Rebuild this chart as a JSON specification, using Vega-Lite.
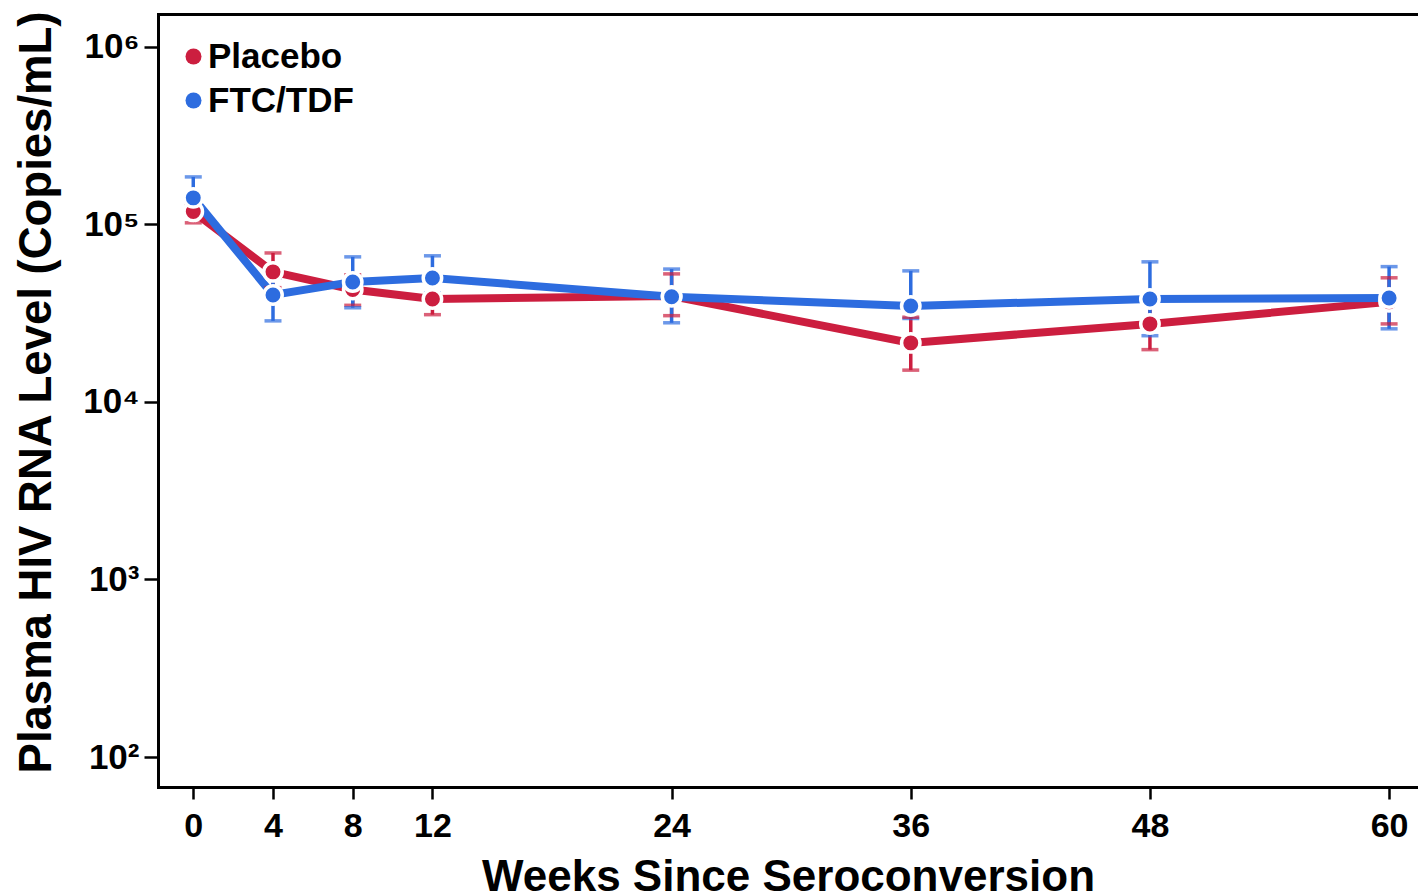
{
  "$schema": "https://vega.github.io/schema/vega-lite/v6.json",
  "autosize": {"type": "none"},
  "width": 1260,
  "height": 773,
  "padding": {"left": 158, "top": 14, "right": 0, "bottom": 109},
  "background": "white",
  "config": {"view": {"stroke": null}, "font": "Liberation Sans"},
  "data": {"values": [
    {"week": 0, "group": "Placebo", "mean": 118000, "lo": 102000, "hi": 130000},
    {"week": 4, "group": "Placebo", "mean": 54000, "lo": 44000, "hi": 69000},
    {"week": 8, "group": "Placebo", "mean": 43000, "lo": 35000, "hi": 52000},
    {"week": 12, "group": "Placebo", "mean": 38000, "lo": 31000, "hi": 47000},
    {"week": 24, "group": "Placebo", "mean": 39500, "lo": 30600, "hi": 52600},
    {"week": 36, "group": "Placebo", "mean": 21500, "lo": 15100, "hi": 30000},
    {"week": 48, "group": "Placebo", "mean": 27500, "lo": 19700, "hi": 36000},
    {"week": 60, "group": "Placebo", "mean": 36600, "lo": 27500, "hi": 50000},
    {"week": 0, "group": "FTC/TDF", "mean": 141000, "lo": 112000, "hi": 185000},
    {"week": 4, "group": "FTC/TDF", "mean": 40000, "lo": 28600, "hi": 50000},
    {"week": 8, "group": "FTC/TDF", "mean": 47400, "lo": 33900, "hi": 65600},
    {"week": 12, "group": "FTC/TDF", "mean": 49900, "lo": 41000, "hi": 66500},
    {"week": 24, "group": "FTC/TDF", "mean": 39100, "lo": 27900, "hi": 56000},
    {"week": 36, "group": "FTC/TDF", "mean": 34700, "lo": 29500, "hi": 54700},
    {"week": 48, "group": "FTC/TDF", "mean": 38000, "lo": 23600, "hi": 61500},
    {"week": 60, "group": "FTC/TDF", "mean": 38500, "lo": 25800, "hi": 57800}
  ]},
  "layer": [
    {
      "encoding": {
        "x": {"field": "week", "type": "quantitative",
              "scale": {"domain": [-1.77, 61.45], "nice": false, "zero": false}}
      },
      "layer": [
        {
          "mark": {"type": "line", "strokeWidth": 8},
          "encoding": {
            "x": {"field": "week", "type": "quantitative",
                  "axis": {"values": [0, 4, 8, 12, 24, 36, 48, 60], "grid": false,
                           "domainColor": "black", "domainWidth": 3, "domainCap": "square",
                           "tickColor": "black", "tickWidth": 2.5, "tickSize": 12,
                           "labelFont": "Liberation Sans", "labelFontWeight": "bold", "labelFontSize": 34,
                           "labelColor": "black", "labelPadding": 10, "labelFlush": false,
                           "title": "Weeks Since Seroconversion", "titleFont": "Liberation Sans",
                           "titleFontWeight": "bold", "titleFontSize": 44, "titleColor": "black",
                           "titlePadding": 12}},
            "y": {"field": "mean", "type": "quantitative",
                  "scale": {"type": "log", "domain": [67.8, 1530000], "nice": false},
                  "axis": {"values": [100, 1000, 10000, 100000, 1000000], "grid": false,
                           "labelExpr": "datum.value == 1000000 ? '10⁶' : datum.value == 100000 ? '10⁵' : datum.value == 10000 ? '10⁴' : datum.value == 1000 ? '10³' : '10²'",
                           "domainColor": "black", "domainWidth": 3, "domainCap": "square",
                           "tickColor": "black", "tickWidth": 2.5, "tickSize": 14,
                           "labelFont": "Liberation Sans", "labelFontWeight": "bold", "labelFontSize": 35,
                           "labelColor": "black", "labelPadding": 5, "labelFlush": false,
                           "title": "Plasma HIV RNA Level (Copies/mL)", "titleFont": "Liberation Sans",
                           "titleFontWeight": "bold", "titleFontSize": 45.5, "titleColor": "black",
                           "titlePadding": 22, "titleY": 378}},
            "color": {"field": "group", "type": "nominal",
                      "scale": {"domain": ["Placebo", "FTC/TDF"], "range": ["#CC1E3F", "#2D6CDF"]},
                      "legend": {"title": null, "orient": "none", "legendX": 18, "legendY": 25,
                                 "padding": 0, "symbolType": "circle", "symbolSize": 256,
                                 "symbolFillColor": "#888888", "symbolStrokeWidth": 0,
                                 "rowPadding": 8, "labelOffset": -3,
                                 "labelFont": "Liberation Sans", "labelFontWeight": "bold",
                                 "labelFontSize": 35, "labelColor": "black",
                                 "encode": {"symbols": {"update": {"fill": {"field": "value", "scale": "color"}, "strokeWidth": {"value": 0}, "shape": {"value": "circle"}}}}}}
          }
        },
        {
          "mark": {"type": "rule", "strokeWidth": 3.5},
          "encoding": {
            "y": {"field": "lo", "type": "quantitative"},
            "y2": {"field": "hi"},
            "color": {"field": "group", "type": "nominal"}
          }
        },
        {
          "mark": {"type": "tick", "orient": "horizontal", "size": 17, "thickness": 3.5},
          "encoding": {
            "y": {"field": "lo", "type": "quantitative"},
            "color": {"field": "group", "type": "nominal"}
          }
        },
        {
          "mark": {"type": "tick", "orient": "horizontal", "size": 17, "thickness": 3.5},
          "encoding": {
            "y": {"field": "hi", "type": "quantitative"},
            "color": {"field": "group", "type": "nominal"}
          }
        },
        {
          "mark": {"type": "point", "shape": "circle", "filled": true, "opacity": 1, "size": 340,
                   "stroke": "white", "strokeWidth": 3.5},
          "encoding": {
            "y": {"field": "mean", "type": "quantitative"},
            "color": {"field": "group", "type": "nominal"}
          }
        }
      ]
    },
    {
      "mark": {"type": "rule", "opacity": 0},
      "encoding": {
        "x": {"field": "week", "type": "quantitative",
              "scale": {"domain": [-1.77, 61.45], "nice": false, "zero": false},
              "axis": {"orient": "top", "labels": false, "ticks": false, "title": null, "grid": false,
                       "domainColor": "black", "domainWidth": 3, "domainCap": "square"}}
      }
    }
  ],
  "resolve": {"axis": {"x": "independent"}}
}
